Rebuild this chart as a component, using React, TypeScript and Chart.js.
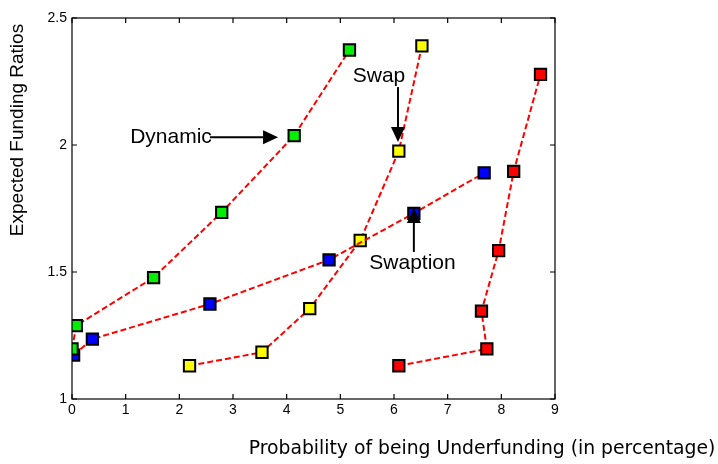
import React, { useEffect, useRef } from "react";
import { Chart, registerables } from "chart.js";

Chart.register(...registerables);

// Data (probability of underfunding in %, expected funding ratio)
const dynamicX = [0.0, 0.08, 1.52, 2.79, 4.14, 5.17];
const dynamicY = [1.197, 1.289, 1.478, 1.735, 2.037, 2.374];
const swapX = [2.19, 3.54, 4.43, 5.37, 6.09, 6.52];
const swapY = [1.131, 1.184, 1.356, 1.624, 1.976, 2.39];
const swaptionX = [0.03, 0.38, 2.57, 4.79, 6.37, 7.68];
const swaptionY = [1.173, 1.236, 1.374, 1.548, 1.731, 1.89];
const staticX = [6.09, 7.73, 7.63, 7.95, 8.23, 8.73];
const staticY = [1.131, 1.197, 1.346, 1.584, 1.896, 2.278];

const xTicks = [0, 1, 2, 3, 4, 5, 6, 7, 8, 9];
const yTicks = [1, 1.5, 2, 2.5];

const xTitle = "Probability of being Underfunding (in percentage)";
const yTitle = "Expected Funding Ratios";

// Annotations: label text and arrow, in data coordinates
const annotationText = ["Dynamic", "Swap", "Swaption"];
const annotationTextX = [1.845, 5.72, 6.345];
const annotationTextY = [2.031, 2.272, 1.535];
const arrowFromX = [2.57, 6.074, 6.37];
const arrowFromY = [2.031, 2.228, 1.579];
const arrowToX = [3.84, 6.074, 6.37];
const arrowToY = [2.031, 2.012, 1.752];

const toPoints = (xs: number[], ys: number[]) => xs.map((x, i) => ({ x, y: ys[i] }));

const makeDataset = (label: string, xs: number[], ys: number[], fill: string, order: number) => ({
  label,
  data: toPoints(xs, ys),
  borderColor: "#ff0000",
  borderWidth: 2,
  borderDash: [6, 3],
  pointStyle: "rect" as const,
  pointRadius: 8,
  pointBorderWidth: 2,
  pointBackgroundColor: fill,
  pointBorderColor: "#000000",
  showLine: true,
  fill: false,
  tension: 0,
  order,
});

const framePlugin = {
  id: "frame",
  afterDatasetsDraw(chart: any) {
    const ctx = chart.ctx as CanvasRenderingContext2D;
    const { left, right, top, bottom } = chart.chartArea;
    const xs = chart.scales.x;
    const ys = chart.scales.y;
    ctx.save();
    // box
    ctx.strokeStyle = "#000";
    ctx.lineWidth = 1.2;
    ctx.strokeRect(left, top, right - left, bottom - top);
    // inward ticks
    const tl = 5;
    ctx.beginPath();
    xTicks.forEach((v) => {
      const px = xs.getPixelForValue(v);
      ctx.moveTo(px, bottom);
      ctx.lineTo(px, bottom - tl);
      ctx.moveTo(px, top);
      ctx.lineTo(px, top + tl);
    });
    yTicks.forEach((v) => {
      const py = ys.getPixelForValue(v);
      ctx.moveTo(left, py);
      ctx.lineTo(left + tl, py);
      ctx.moveTo(right, py);
      ctx.lineTo(right - tl, py);
    });
    ctx.stroke();

    // annotations
    ctx.fillStyle = "#000";
    ctx.strokeStyle = "#000";
    ctx.lineWidth = 2;
    ctx.font = "21px 'Liberation Sans', Arial, sans-serif";
    ctx.textAlign = "center";
    ctx.textBaseline = "middle";
    annotationText.forEach((t, i) => {
      ctx.fillText(t, xs.getPixelForValue(annotationTextX[i]), ys.getPixelForValue(annotationTextY[i]));
      const x0 = xs.getPixelForValue(arrowFromX[i]);
      const y0 = ys.getPixelForValue(arrowFromY[i]);
      const x1 = xs.getPixelForValue(arrowToX[i]);
      const y1 = ys.getPixelForValue(arrowToY[i]);
      const ang = Math.atan2(y1 - y0, x1 - x0);
      const hl = 15;
      const hw = 7;
      const bx = x1 - hl * Math.cos(ang);
      const by = y1 - hl * Math.sin(ang);
      ctx.beginPath();
      ctx.moveTo(x0, y0);
      ctx.lineTo(bx, by);
      ctx.stroke();
      ctx.beginPath();
      ctx.moveTo(x1, y1);
      ctx.lineTo(bx + hw * Math.sin(ang), by - hw * Math.cos(ang));
      ctx.lineTo(bx - hw * Math.sin(ang), by + hw * Math.cos(ang));
      ctx.closePath();
      ctx.fill();
    });

    // axis titles
    ctx.font = "18.8px 'DejaVu Sans', Verdana, sans-serif";
    ctx.textAlign = "center";
    ctx.textBaseline = "middle";
    ctx.fillText(xTitle, 482, 449);
    ctx.save();
    ctx.translate(18, 130);
    ctx.rotate(-Math.PI / 2);
    ctx.font = "19px 'Liberation Sans', Arial, sans-serif";
    ctx.fillText(yTitle, 0, 0);
    ctx.restore();
    ctx.restore();
  },
};

export default function App() {
  const ref = useRef<HTMLCanvasElement | null>(null);
  useEffect(() => {
    if (!ref.current) return;
    const chart = new Chart(ref.current, {
      type: "scatter",
      data: {
        datasets: [
          makeDataset("Dynamic", dynamicX, dynamicY, "#00ee00", 1),
          makeDataset("Swaption", swaptionX, swaptionY, "#0000ff", 2),
          makeDataset("Swap", swapX, swapY, "#ffff00", 3),
          makeDataset("Static", staticX, staticY, "#ff0000", 4),
        ],
      },
      options: {
        animation: false,
        responsive: false,
        maintainAspectRatio: false,
        layout: { padding: { left: 0, top: 18, right: 163, bottom: 0 } },
        plugins: {
          legend: { display: false },
          tooltip: { enabled: false },
        },
        scales: {
          x: {
            type: "linear",
            min: 0,
            max: 9,
            afterFit: (s: any) => {
              s.height = 65;
            },
            afterBuildTicks: (s: any) => {
              s.ticks = xTicks.map((v) => ({ value: v }));
            },
            ticks: {
              padding: 3,
              color: "#000",
              font: { family: "'Liberation Sans', Arial, sans-serif", size: 14 },
              maxRotation: 0,
            },
            grid: { display: false, drawTicks: false },
            border: { display: false },
          },
          y: {
            type: "linear",
            min: 1,
            max: 2.5,
            afterFit: (s: any) => {
              s.width = 72;
            },
            afterBuildTicks: (s: any) => {
              s.ticks = yTicks.map((v) => ({ value: v }));
            },
            ticks: {
              padding: 5,
              color: "#000",
              font: { family: "'Liberation Sans', Arial, sans-serif", size: 14 },
              callback: (v: any) => String(v),
            },
            grid: { display: false, drawTicks: false },
            border: { display: false },
          },
        },
      },
      plugins: [framePlugin],
    });
    return () => chart.destroy();
  }, []);
  return (
    <div style={{ position: "fixed", left: 0, top: 0, width: 718, height: 464, background: "#fff" }}>
      <canvas ref={ref} width={718} height={464} style={{ width: 718, height: 464 }} />
    </div>
  );
}
